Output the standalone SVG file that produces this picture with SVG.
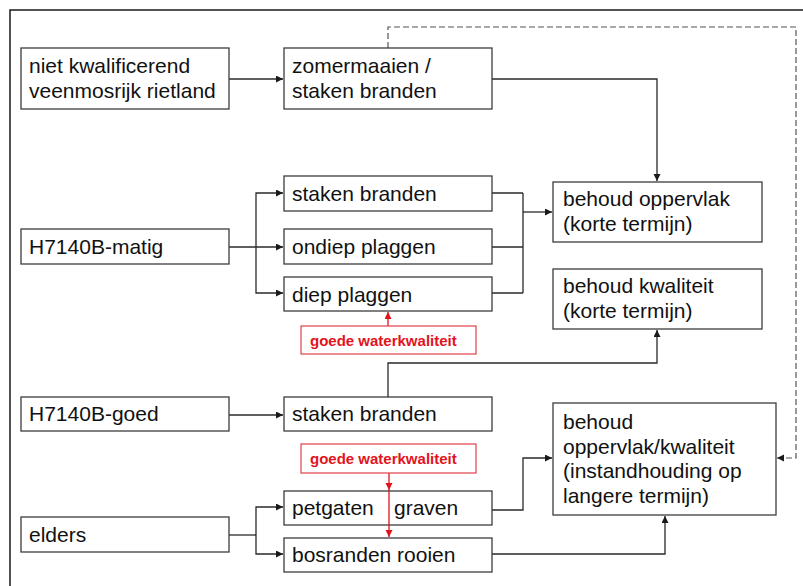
<svg xmlns="http://www.w3.org/2000/svg" width="803" height="586" viewBox="0 0 803 586">
  <style>
    .box { fill: #ffffff; stroke: #3c3c3c; stroke-width: 1.3; }
    .rbox { fill: #ffffff; stroke: #e0404a; stroke-width: 1.2; }
    .lbl { font-family: "Liberation Sans", Arial, sans-serif; font-size: 21px; fill: #111111; }
    .rlbl { font-family: "Liberation Sans", Arial, sans-serif; font-size: 15px; font-weight: bold; fill: #e3131e; }
    .ln { fill: none; stroke: #2a2a2a; stroke-width: 1.3; }
    .dash { fill: none; stroke: #555555; stroke-width: 1.2; stroke-dasharray: 6 3; }
    .red { fill: none; stroke: #e3131e; stroke-width: 1.3; }
  </style>
  <defs>
    <marker id="arr" markerUnits="userSpaceOnUse" markerWidth="8" markerHeight="8" refX="7" refY="3.5" orient="auto">
      <path d="M0,0 L7,3.5 L0,7 z" fill="#1a1a1a"/>
    </marker>
    <marker id="arrRed" markerUnits="userSpaceOnUse" markerWidth="8" markerHeight="8" refX="7" refY="3.5" orient="auto">
      <path d="M0,0 L7,3.5 L0,7 z" fill="#e3131e"/>
    </marker>
  </defs>

  <rect width="803" height="586" fill="#ffffff"/>
  <!-- frame -->
  <path d="M10,586 V10 H803" fill="none" stroke="#1a1a1a" stroke-width="1.5"/>

  <g id="connectors">
    <path class="ln" d="M229,79 H283" marker-end="url(#arr)"/>
    <path class="ln" d="M492,79 H657 V181" marker-end="url(#arr)"/>
    <path class="dash" d="M388,48 V27 H796 V458 H777" marker-end="url(#arr)"/>

    <path class="ln" d="M229,247 H283" marker-end="url(#arr)"/>
    <path class="ln" d="M256,247 V193 H283" marker-end="url(#arr)"/>
    <path class="ln" d="M256,247 V293 H283" marker-end="url(#arr)"/>

    <path class="ln" d="M492,193 H523 M492,247 H523 M492,293 H523 M523,193 V293"/>
    <path class="ln" d="M523,212 H552" marker-end="url(#arr)"/>

    <path class="ln" d="M229,415 H283" marker-end="url(#arr)"/>
    <path class="ln" d="M388,397 V363 H657 V330" marker-end="url(#arr)"/>

    <path class="ln" d="M229,535 H256"/>
    <path class="ln" d="M256,535 V507 H283" marker-end="url(#arr)"/>
    <path class="ln" d="M256,535 V554 H283" marker-end="url(#arr)"/>

    <path class="ln" d="M492,510 H523 V458 H552" marker-end="url(#arr)"/>
    <path class="ln" d="M492,554 H665 V516" marker-end="url(#arr)"/>

    <path class="red" d="M388,326 V312" marker-end="url(#arrRed)"/>
    <path class="red" d="M389,473 V490" marker-end="url(#arrRed)"/>
    <path class="red" d="M389,490 V537" marker-end="url(#arrRed)"/>
  </g>

  <g id="niet-kwalificerend">
    <rect class="box" x="21" y="48" width="208" height="61"/>
    <text class="lbl" x="29" y="73">niet kwalificerend</text>
    <text class="lbl" x="29" y="98">veenmosrijk rietland</text>
  </g>
  <g id="zomermaaien">
    <rect class="box" x="284" y="48" width="208" height="61"/>
    <text class="lbl" x="292" y="73">zomermaaien /</text>
    <text class="lbl" x="292" y="98">staken branden</text>
  </g>

  <g id="h7140b-matig">
    <rect class="box" x="21" y="229" width="208" height="35"/>
    <text class="lbl" x="29" y="254">H7140B-matig</text>
  </g>
  <g id="staken-branden-1">
    <rect class="box" x="284" y="176" width="208" height="35"/>
    <text class="lbl" x="292" y="201">staken branden</text>
  </g>
  <g id="ondiep-plaggen">
    <rect class="box" x="284" y="229" width="208" height="35"/>
    <text class="lbl" x="292" y="254">ondiep plaggen</text>
  </g>
  <g id="diep-plaggen">
    <rect class="box" x="284" y="277" width="208" height="34"/>
    <text class="lbl" x="292" y="302">diep plaggen</text>
  </g>

  <g id="behoud-oppervlak">
    <rect class="box" x="553" y="182" width="209" height="60"/>
    <text class="lbl" x="563" y="206">behoud oppervlak</text>
    <text class="lbl" x="563" y="231">(korte termijn)</text>
  </g>
  <g id="behoud-kwaliteit">
    <rect class="box" x="553" y="269" width="209" height="60"/>
    <text class="lbl" x="563" y="293">behoud kwaliteit</text>
    <text class="lbl" x="563" y="318">(korte termijn)</text>
  </g>

  <g id="waterkwaliteit-1">
    <rect class="rbox" x="301" y="326" width="175" height="28"/>
    <text class="rlbl" x="310" y="346">goede waterkwaliteit</text>
  </g>

  <g id="h7140b-goed">
    <rect class="box" x="21" y="397" width="208" height="34"/>
    <text class="lbl" x="29" y="421">H7140B-goed</text>
  </g>
  <g id="staken-branden-2">
    <rect class="box" x="284" y="397" width="208" height="34"/>
    <text class="lbl" x="292" y="421">staken branden</text>
  </g>

  <g id="waterkwaliteit-2">
    <rect class="rbox" x="301" y="444" width="175" height="29"/>
    <text class="rlbl" x="310" y="464">goede waterkwaliteit</text>
  </g>

  <g id="behoud-lange-termijn">
    <rect class="box" x="553" y="403" width="223" height="112"/>
    <text class="lbl" x="563" y="429">behoud</text>
    <text class="lbl" x="563" y="454">oppervlak/kwaliteit</text>
    <text class="lbl" x="563" y="478">(instandhouding op</text>
    <text class="lbl" x="563" y="503">langere termijn)</text>
  </g>

  <g id="elders">
    <rect class="box" x="21" y="517" width="208" height="35"/>
    <text class="lbl" x="29" y="542">elders</text>
  </g>
  <g id="petgaten-graven">
    <rect class="box" x="284" y="491" width="208" height="34"/>
    <text class="lbl" y="515"><tspan x="292">petgaten</tspan><tspan x="394">graven</tspan></text>
    <path class="red" d="M389,491 V525"/>
  </g>
  <g id="bosranden-rooien">
    <rect class="box" x="284" y="538" width="208" height="34"/>
    <text class="lbl" x="292" y="562">bosranden rooien</text>
  </g>
</svg>
